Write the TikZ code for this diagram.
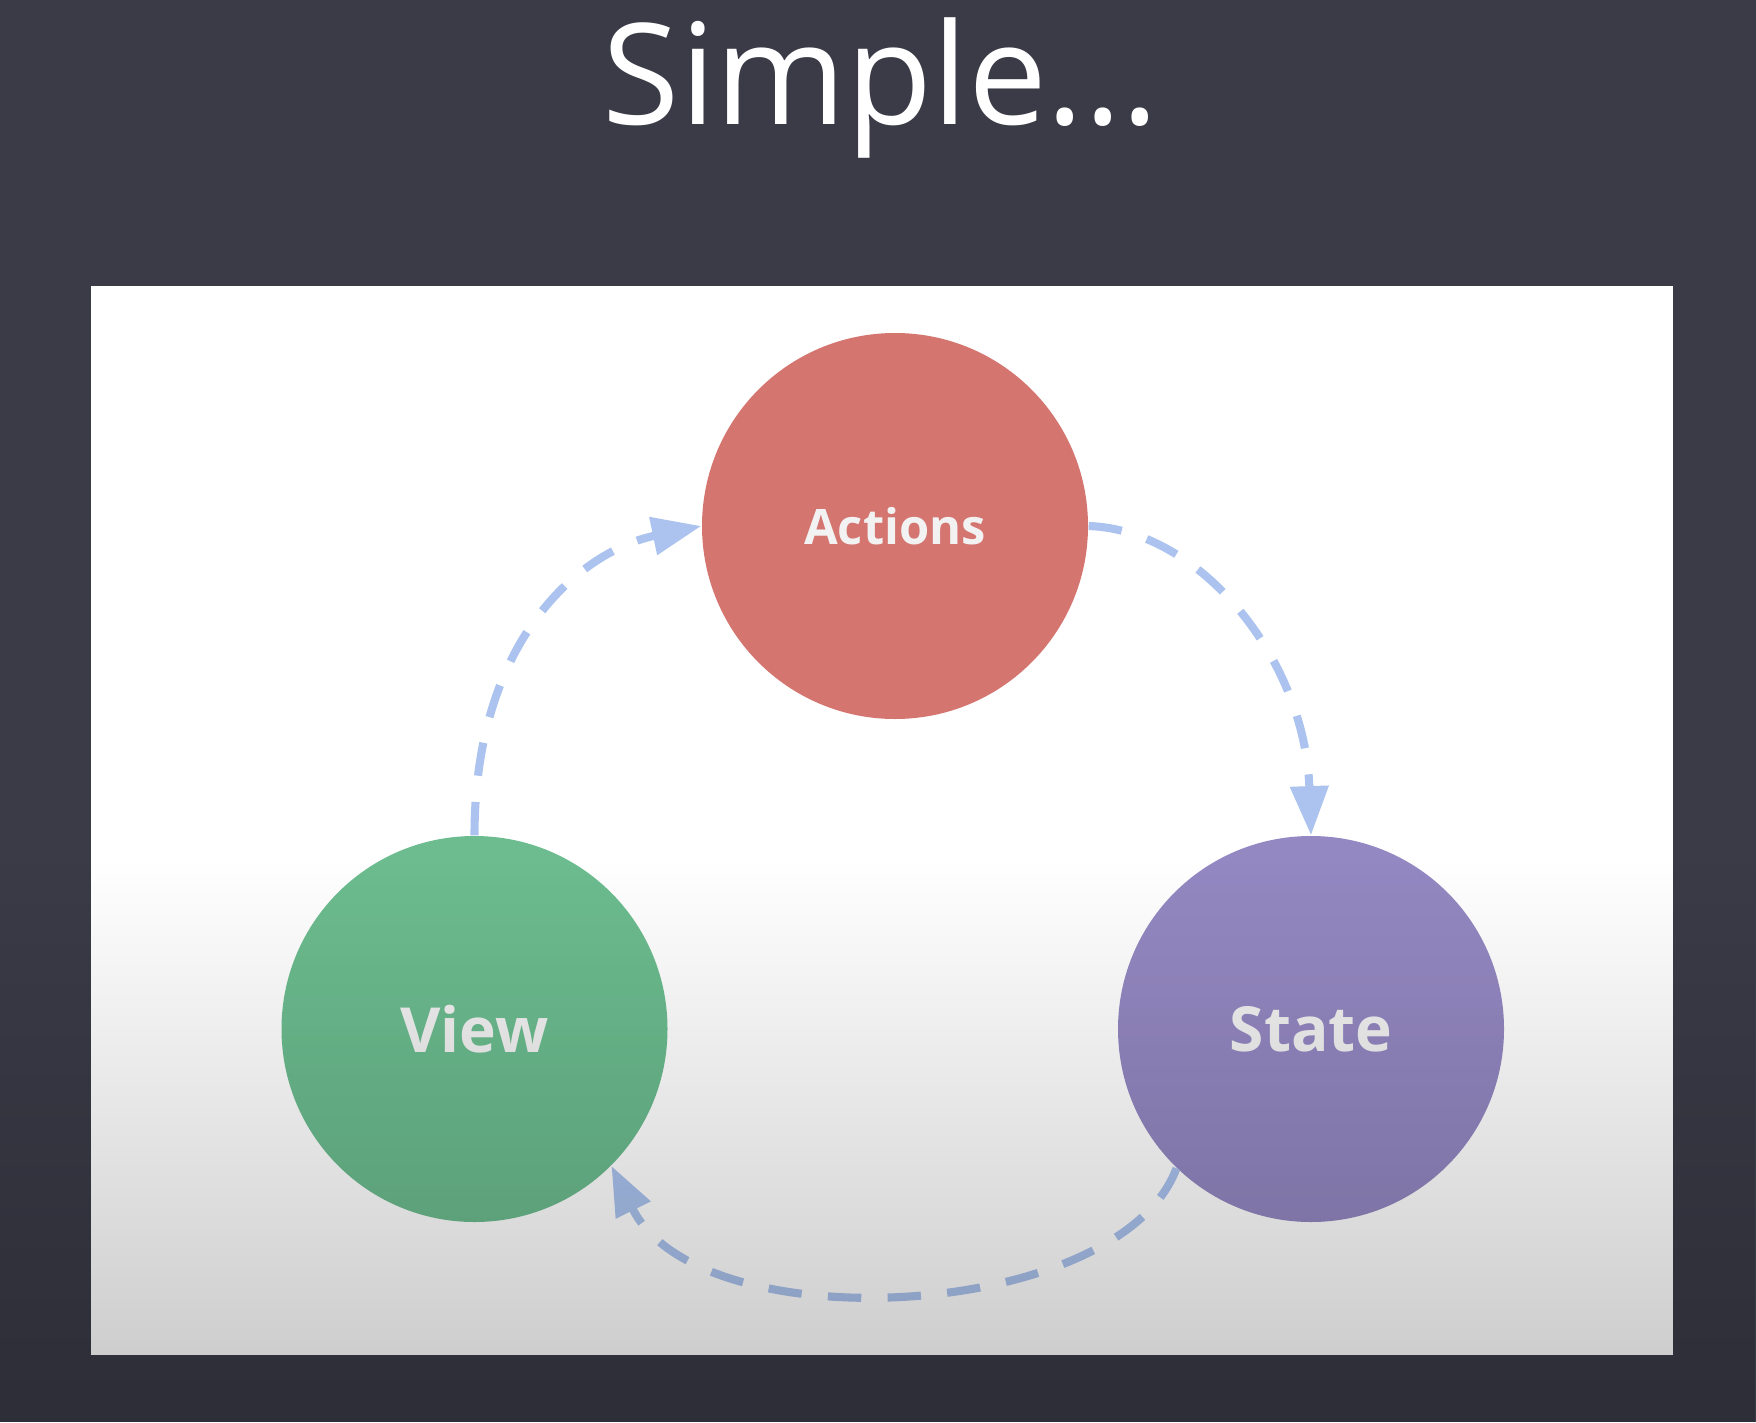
\documentclass[tikz,border=0pt]{standalone}
\usepackage{fontspec}
\setmainfont{Open Sans}
\usetikzlibrary{arrows.meta,fadings}
\definecolor{slidebg}{HTML}{3B3B48}
\definecolor{actred}{HTML}{D47570}
\definecolor{viewgreen}{HTML}{6CBC8F}
\definecolor{statepurple}{HTML}{9488C2}
\definecolor{flowblue}{HTML}{ABC3EE}
\definecolor{labelwhite}{HTML}{F2F2F2}
\tikzfading[name=dimdown, top color=transparent!100, bottom color=transparent!0]
\begin{document}
\begin{tikzpicture}[
  every node/.style={circle, minimum size=3.86cm, inner sep=0pt, text=labelwhite, font=\bfseries\fontsize{17.7}{18}\selectfont},
  flow/.style={flowblue, line width=2.3pt, dash pattern=on 9.5pt off 7.5pt, -{Triangle[length=14pt, width=10.5pt]}}
]
  \useasboundingbox (0,0) rectangle (17.56,14.22);
  \fill[slidebg] (0,0) rectangle (17.56,14.22);
  \fill[white] (0.91,0.67) rectangle (16.73,11.36);
  \node[rectangle, minimum size=0pt, anchor=base, text=white, font=\fontsize{40}{40}\selectfont] (title) at (8.81,12.97) {Simple...};
  \node[fill=actred, font=\bfseries\fontsize{13.9}{14}\selectfont] (actions) at (8.95,8.96) {Actions};
  \node[fill=viewgreen] (view) at (4.745,3.93) {View};
  \node[fill=statepurple] (state) at (13.11,3.93) {State};
  \draw[flow] (view.north) .. controls +(0,1.97) and +(-1.2,-0.25) .. (actions.west);
  \draw[flow] (actions.east) .. controls +(1.13,-0.04) and +(-0.06,1.75) .. (state.north);
  \draw[flow] (state.226) .. controls +(-0.57,-1.53) and +(0.88,-1.78) .. (view.-45);
  % darker toward the bottom
  \fill[black, fill opacity=0.22, path fading=dimdown] (0,0) rectangle (17.56,5.62);
\end{tikzpicture}
\end{document}
